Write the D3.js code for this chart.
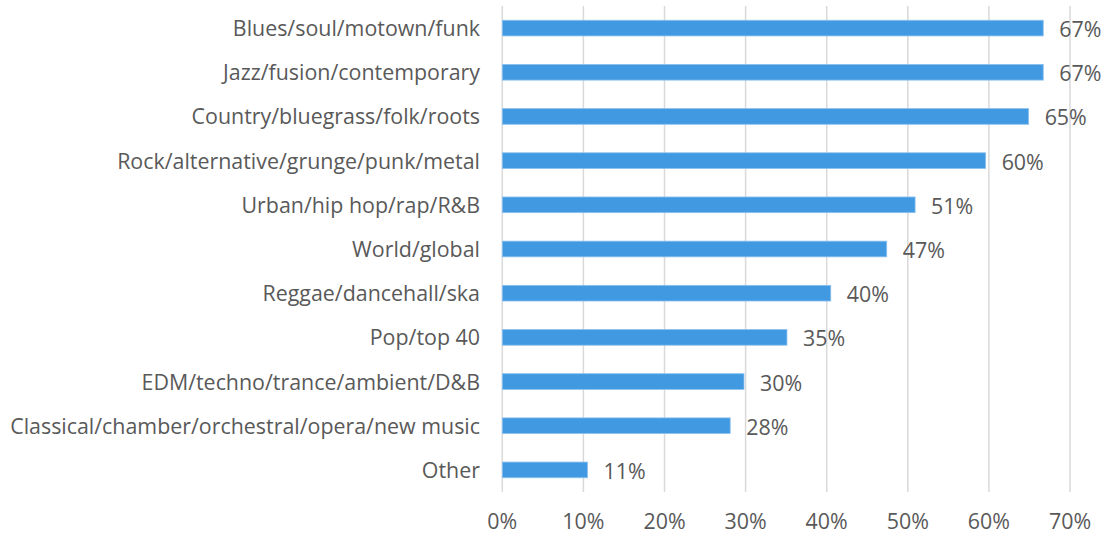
<!DOCTYPE html>
<html><head><meta charset="utf-8">
<script src="https://cdn.jsdelivr.net/npm/d3@7"></script>
<style>body{margin:0;background:#fff}svg{display:block}text{font-family:"Open Sans",sans-serif;fill:#595959}</style>
</head><body><svg id="c" width="1107" height="536"></svg>
<script>
const categories = ["Blues/soul/motown/funk","Jazz/fusion/contemporary","Country/bluegrass/folk/roots","Rock/alternative/grunge/punk/metal","Urban/hip hop/rap/R&B","World/global","Reggae/dancehall/ska","Pop/top 40","EDM/techno/trance/ambient/D&B","Classical/chamber/orchestral/opera/new music","Other"];
const values = [0.667,0.667,0.649,0.596,0.509,0.474,0.405,0.351,0.298,0.281,0.105];
const labels = ["67%","67%","65%","60%","51%","47%","40%","35%","30%","28%","11%"];
const ticks = [0,0.1,0.2,0.3,0.4,0.5,0.6,0.7];

const svg = d3.select("#c");
const x = d3.scaleLinear().domain([0,0.7]).range([502.3,1070]);
const y = d3.scaleBand().domain(categories).range([6,492]).paddingInner(0.645).paddingOuter(0.3225);
const fs = 21.4;

svg.append("g").selectAll("line").data(ticks).join("line")
  .attr("x1",d=>x(d)).attr("x2",d=>x(d)).attr("y1",6).attr("y2",492)
  .attr("stroke","#d9d9d9").attr("stroke-width",1.5);

svg.append("g").selectAll("rect").data(values).join("rect")
  .attr("x",x(0)).attr("y",(d,i)=>y(categories[i])).attr("width",d=>x(d)-x(0)).attr("height",y.bandwidth())
  .attr("fill","#419ae1").attr("stroke","#8cc0ee").attr("stroke-width",0.8);

svg.append("g").selectAll("text").data(categories).join("text")
  .attr("x",480).attr("y",d=>y(d)+y.bandwidth()/2+8)
  .attr("text-anchor","end").attr("font-size",fs).text(d=>d);

svg.append("g").selectAll("text").data(values).join("text")
  .attr("x",d=>x(d)+16).attr("y",(d,i)=>y(categories[i])+y.bandwidth()/2+9)
  .attr("font-size",fs).text((d,i)=>labels[i]);

svg.append("g").selectAll("text").data(ticks).join("text")
  .attr("x",d=>x(d)).attr("y",529).attr("text-anchor","middle")
  .attr("font-size",fs).text(d=>d3.format(".0%")(d));
</script></body></html>
